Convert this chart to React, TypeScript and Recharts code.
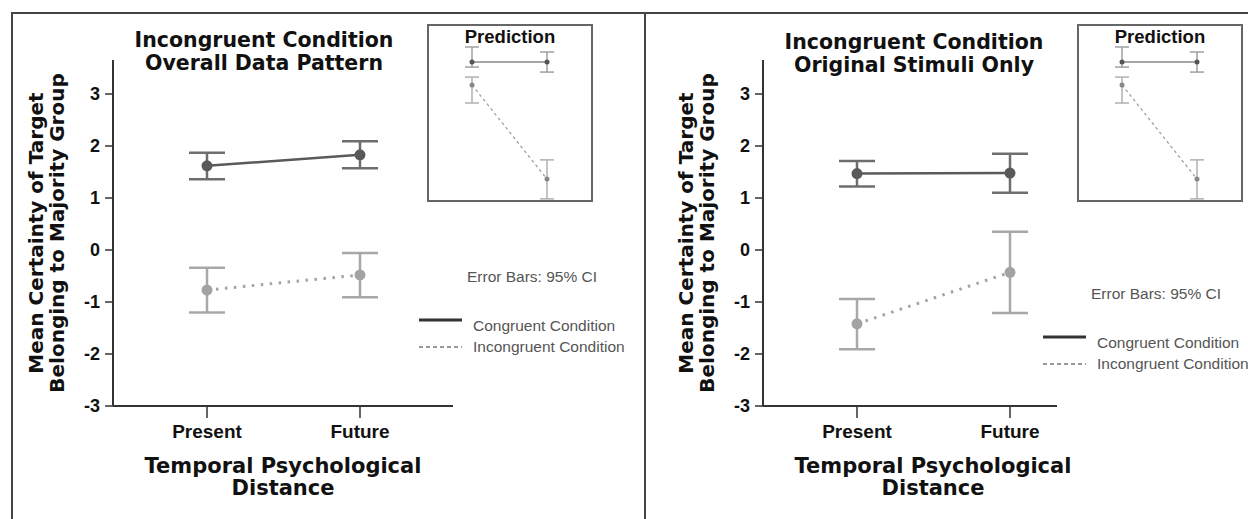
import { LineChart, Line, XAxis, YAxis, ErrorBar } from 'recharts';

const categories = ['Present', 'Future'];
const seriesNames = ['Congruent Condition', 'Incongruent Condition'];
const yTicks = [-3, -2, -1, 0, 1, 2, 3];
const yLabelLines = ['Mean Certainty of Target', 'Belonging to Majority Group'];
const xLabelLines = ['Temporal Psychological', 'Distance'];
const leftTitle = ['Incongruent Condition', 'Overall Data Pattern'];
const rightTitle = ['Incongruent Condition', 'Original Stimuli Only'];
const noteText = 'Error Bars: 95% CI';
const insetTitle = 'Prediction';

// overall data pattern
const overallCongruentMean = [1.62, 1.83];
const overallCongruentLow = [1.36, 1.57];
const overallCongruentHigh = [1.87, 2.09];
const overallIncongruentMean = [-0.77, -0.48];
const overallIncongruentLow = [-1.2, -0.91];
const overallIncongruentHigh = [-0.34, -0.06];

// original stimuli only
const originalCongruentMean = [1.47, 1.48];
const originalCongruentLow = [1.22, 1.1];
const originalCongruentHigh = [1.71, 1.85];
const originalIncongruentMean = [-1.42, -0.43];
const originalIncongruentLow = [-1.91, -1.21];
const originalIncongruentHigh = [-0.94, 0.35];

// prediction inset (arbitrary units)
const predCongruentMean = [1.85, 1.85];
const predCongruentLow = [1.67, 1.49];
const predCongruentHigh = [2.39, 2.21];
const predIncongruentMean = [1.03, -2.35];
const predIncongruentLow = [0.38, -3.06];
const predIncongruentHigh = [1.31, -1.66];

type Row = {
  name: string;
  congruent: number;
  congruentErr: number[];
  incongruent: number;
  incongruentErr: number[];
};

function buildRows(cm: number[], cl: number[], ch: number[], im: number[], il: number[], ih: number[]): Row[] {
  return categories.map((c, i) => ({
    name: c,
    congruent: cm[i],
    congruentErr: [cm[i] - cl[i], ch[i] - cm[i]],
    incongruent: im[i],
    incongruentErr: [im[i] - il[i], ih[i] - im[i]],
  }));
}

const overallRows = buildRows(overallCongruentMean, overallCongruentLow, overallCongruentHigh, overallIncongruentMean, overallIncongruentLow, overallIncongruentHigh);
const originalRows = buildRows(originalCongruentMean, originalCongruentLow, originalCongruentHigh, originalIncongruentMean, originalIncongruentLow, originalIncongruentHigh);
const predRows = buildRows(predCongruentMean, predCongruentLow, predCongruentHigh, predIncongruentMean, predIncongruentLow, predIncongruentHigh);

const BOLD_WIDE = '"DejaVu Sans", sans-serif';
const ARIAL = '"Liberation Sans", Arial, sans-serif';

function Inset() {
  return (
    <div style={{ position: 'absolute', left: 427, top: 24, width: 166, height: 178, border: '2px solid #666', boxSizing: 'border-box', background: '#fff' }}>
      <LineChart width={162} height={174} data={predRows} margin={{ top: 4, right: 0, bottom: 0, left: 0 }}>
        <XAxis dataKey="name" hide padding={{ left: 43, right: 44 }} />
        <YAxis hide domain={[-3.1, 3]} />
        <Line dataKey="incongruent" stroke="#9a9a9a" strokeWidth={1.2} strokeDasharray="3 3" dot={{ r: 2.5, fill: '#888', stroke: 'none' }} isAnimationActive={false}>
          <ErrorBar dataKey="incongruentErr" width={7} stroke="#b0b0b0" strokeWidth={1.5} />
        </Line>
        <Line dataKey="congruent" stroke="#888" strokeWidth={1.5} dot={{ r: 2.5, fill: '#555', stroke: 'none' }} isAnimationActive={false}>
          <ErrorBar dataKey="congruentErr" width={7} stroke="#a0a0a0" strokeWidth={1.5} />
        </Line>
      </LineChart>
    </div>
  );
}

type PanelProps = {
  left: number;
  width: number;
  rows: Row[];
  title: string[];
  padRight: number;
  titleDy: number;
  legendDx: number;
  legendDy: number;
};

function Panel({ left, width, rows, title, padRight, titleDy, legendDx, legendDy }: PanelProps) {
  return (
    <div style={{ position: 'absolute', left, top: 0, width, height: 519 }}>
      <LineChart width={width} height={519} data={rows} margin={{ top: 60, right: 191, bottom: 73, left: 53 }}>
        <XAxis
          dataKey="name"
          height={40}
          padding={{ left: 94, right: padRight }}
          tickSize={12}
          tickMargin={7}
          axisLine={{ stroke: '#333', strokeWidth: 2 }}
          tickLine={{ stroke: '#333', strokeWidth: 1.5 }}
          tick={{ fontSize: 19, fontWeight: 'bold', fill: '#111', fontFamily: ARIAL }}
        />
        <YAxis
          width={60}
          domain={[-3, 3.654]}
          ticks={yTicks}
          tickSize={8}
          tickMargin={5}
          axisLine={{ stroke: '#333', strokeWidth: 2 }}
          tickLine={{ stroke: '#333', strokeWidth: 1.5 }}
          tick={{ fontSize: 18, fontWeight: 'bold', fill: '#111', fontFamily: ARIAL }}
        />
        <Line dataKey="incongruent" stroke="#a3a3a3" strokeWidth={3} strokeDasharray="2.5 6.5" dot={{ r: 5.5, fill: '#a3a3a3', stroke: 'none' }} isAnimationActive={false}>
          <ErrorBar dataKey="incongruentErr" width={18} stroke="#a8a8a8" strokeWidth={2.5} />
        </Line>
        <Line dataKey="congruent" stroke="#5a5a5a" strokeWidth={2.5} dot={{ r: 5.5, fill: '#595959', stroke: 'none' }} isAnimationActive={false}>
          <ErrorBar dataKey="congruentErr" width={18} stroke="#6e6e6e" strokeWidth={2.5} />
        </Line>
      </LineChart>
      <Inset />
      <svg width={width} height={519} style={{ position: 'absolute', left: 0, top: 0, pointerEvents: 'none' }}>
        <text x={264} y={47 + titleDy} textAnchor="middle" fontFamily={BOLD_WIDE} fontWeight="bold" fontSize={20.5} fill="#111">
          <tspan x={264}>{title[0]}</tspan>
          <tspan x={264} dy={23}>{title[1]}</tspan>
        </text>
        <text transform="rotate(-90, 43, 233)" x={43} y={233} textAnchor="middle" fontFamily={BOLD_WIDE} fontWeight="bold" fontSize={20} fill="#111">
          <tspan x={43}>{yLabelLines[0]}</tspan>
          <tspan x={43} dy={21}>{yLabelLines[1]}</tspan>
        </text>
        <text x={283} y={473} textAnchor="middle" fontFamily={BOLD_WIDE} fontWeight="bold" fontSize={21} fill="#111">
          <tspan x={283}>{xLabelLines[0]}</tspan>
          <tspan x={283} dy={22}>{xLabelLines[1]}</tspan>
        </text>
        <text x={510} y={43} textAnchor="middle" fontFamily={ARIAL} fontWeight="bold" fontSize={18.5} fill="#111">{insetTitle}</text>
        <g transform={`translate(${legendDx}, ${legendDy})`}>
          <text x={532} y={282} textAnchor="middle" fontFamily={ARIAL} fontSize={15.5} fill="#555">{noteText}</text>
          <line x1={419} x2={462} y1={320} y2={320} stroke="#333" strokeWidth={3} />
          <text x={473} y={331} fontFamily={ARIAL} fontSize={15.5} fill="#555">{seriesNames[0]}</text>
          <line x1={419} x2={462} y1={347} y2={347} stroke="#999" strokeWidth={2} strokeDasharray="4 3" />
          <text x={473} y={352} fontFamily={ARIAL} fontSize={15.5} fill="#555">{seriesNames[1]}</text>
        </g>
      </svg>
    </div>
  );
}

export default function App() {
  return (
    <div style={{ position: 'fixed', left: 0, top: 0, width: 1248, height: 519, background: '#fff', overflow: 'hidden' }}>
      <Panel left={0} width={644} rows={overallRows} title={leftTitle} padRight={93} titleDy={0} legendDx={0} legendDy={0} />
      <Panel left={650} width={598} rows={originalRows} title={rightTitle} padRight={47} titleDy={2} legendDx={-26} legendDy={17} />
      <svg width={1248} height={519} style={{ position: 'absolute', left: 0, top: 0, pointerEvents: 'none' }}>
        <line x1={12} x2={1248} y1={13} y2={13} stroke="#444" strokeWidth={2} />
        <line x1={12} x2={12} y1={12} y2={519} stroke="#444" strokeWidth={2} />
        <line x1={645} x2={645} y1={12} y2={519} stroke="#444" strokeWidth={2} />
      </svg>
    </div>
  );
}
